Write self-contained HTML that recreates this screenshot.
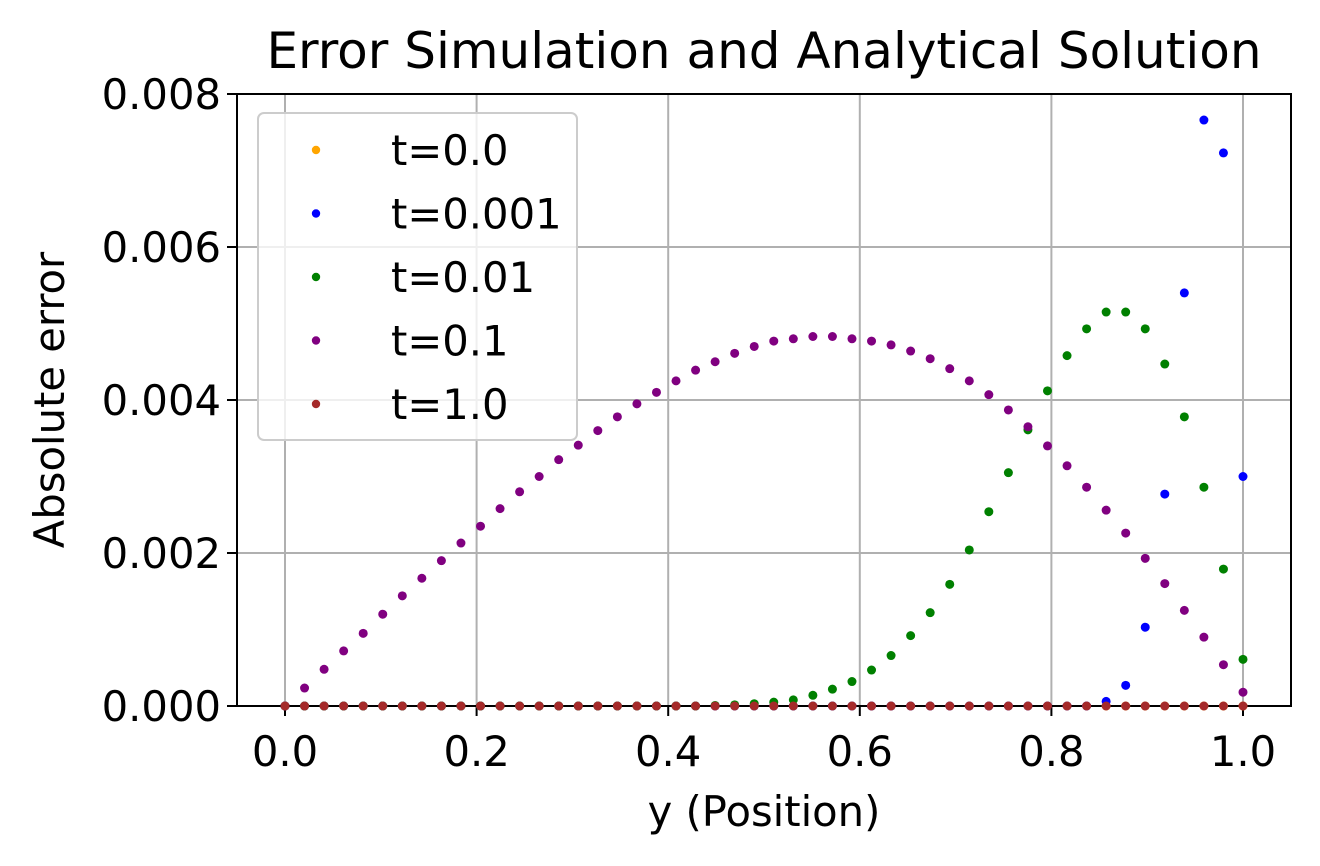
<!DOCTYPE html>
<html><head><meta charset="utf-8"><style>
html,body{margin:0;padding:0;background:#fff;}
svg{display:block;font-family:"DejaVu Sans","Liberation Sans",sans-serif;}
</style></head><body>
<svg id="chart" width="1320" height="866" viewBox="0 0 1320 866" xmlns="http://www.w3.org/2000/svg">
<rect width="1320" height="866" fill="#fff"/>
<text x="764" y="68" font-size="50" text-anchor="middle">Error Simulation and Analytical Solution</text>
<text x="764" y="826" font-size="41.7" text-anchor="middle">y (Position)</text>
<text transform="translate(64,400) rotate(-90)" font-size="41.7" text-anchor="middle">Absolute error</text>
<g id="grid"></g>
<g id="axes"></g>
<g id="marks"></g>
<g id="legend"></g>
</svg>
<script>
const xTicks = [0.0, 0.2, 0.4, 0.6, 0.8, 1.0];
const xTickLabels = ["0.0","0.2","0.4","0.6","0.8","1.0"];
const yTicks = [0, 0.002, 0.004, 0.006, 0.008];
const yTickLabels = ["0.000","0.002","0.004","0.006","0.008"];
const seriesNames = ["t=0.0","t=0.001","t=0.01","t=0.1","t=1.0"];
const seriesColors = ["orange","blue","green","purple","#a52a2a"];
const nPoints = 50;
const z = n => new Array(n).fill(0);
const s0 = z(50);
const s1 = z(42).concat([0.00006,0.00027,0.00103,0.00277,0.0054,0.00766,0.00723,0.003]);
const s2 = z(22).concat([0.000007,0.000015,0.00003,0.00005,0.00008,0.00014,0.00022,0.00032,0.00047,0.00066,0.00092,0.00122,0.00159,0.00204,0.00254,0.00305,0.00361,0.00412,0.00458,0.00493,0.00515,0.00515,0.00493,0.00447,0.00378,0.00286,0.00179,0.00061]);
const s3 = [0,0.000235,0.00048,0.00072,0.00095,0.0012,0.00144,0.00167,0.0019,0.00213,0.00235,0.00258,0.0028,0.003,0.00322,0.00341,0.0036,0.00378,0.00395,0.0041,0.00425,0.00439,0.0045,0.00461,0.0047,0.00477,0.0048,0.00483,0.00483,0.0048,0.00477,0.00472,0.00464,0.00454,0.00441,0.00425,0.00407,0.00387,0.00365,0.0034,0.00314,0.00286,0.00256,0.00226,0.00193,0.0016,0.00125,0.0009,0.00054,0.00018];
const s4 = z(50);
const seriesValues = [s0,s1,s2,s3,s4];

const L=237,R=1291,T=94,B=706;
const X = v => 285 + v*958;
const Y = v => B - v/0.008*(B-T);
const NS="http://www.w3.org/2000/svg";
function mk(tag, attrs, parent){const e=document.createElementNS(NS,tag);for(const k in attrs)e.setAttribute(k,attrs[k]);parent.appendChild(e);return e;}
const grid=document.getElementById('grid'), axes=document.getElementById('axes'), marks=document.getElementById('marks'), legend=document.getElementById('legend');
xTicks.forEach((t,i)=>{
  const g=mk('line',{x1:X(t),x2:X(t),y1:T,y2:B,stroke:'#b0b0b0','stroke-width':2},grid);
  
  
  const tk=mk('line',{x1:X(t),x2:X(t),y1:B,y2:B+10,stroke:'#000','stroke-width':2},axes);
  
  
  const tx=mk('text',{x:X(t),y:B+60,'font-size':41.7,'text-anchor':'middle'},axes);
  tx.textContent=xTickLabels[i];
  
  
});
yTicks.forEach((t,i)=>{
  const g=mk('line',{x1:L,x2:R,y1:Y(t),y2:Y(t),stroke:'#b0b0b0','stroke-width':2},grid);
  
  
  const tk=mk('line',{x1:L-10,x2:L,y1:Y(t),y2:Y(t),stroke:'#000','stroke-width':2},axes);
  
  
  const tx=mk('text',{x:L-16,y:Y(t)+15,'font-size':41.7,'text-anchor':'end'},axes);
  tx.textContent=yTickLabels[i];
  
  
});
const frame=mk('rect',{x:L,y:T,width:R-L,height:B-T,fill:'none',stroke:'#000','stroke-width':2},axes);


seriesValues.forEach((vals,si)=>{
  vals.forEach((v,i)=>{
    const c=mk('circle',{cx:X(i/(nPoints-1)),cy:Y(v),r:4.5,fill:seriesColors[si]},marks);
    
    
  });
});
const lb=mk('rect',{x:258,y:113,width:319,height:327,rx:6,fill:'#fff','fill-opacity':0.8,stroke:'#ccc','stroke-width':2},legend);


seriesNames.forEach((n,i)=>{
  const y=150+i*63.5;
  const c=mk('circle',{cx:316,cy:y,r:4.2,fill:seriesColors[i]},legend);
  
  
  const t=mk('text',{x:391,y:y+15,'font-size':41.7},legend);
  t.textContent=n;
  
  
});
</script>
</body></html>
